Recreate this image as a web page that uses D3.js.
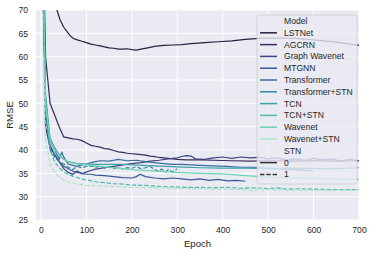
<!DOCTYPE html>
<html>
<head>
<meta charset="utf-8">
<script src="https://cdn.jsdelivr.net/npm/d3@7"></script>
<style>
  body { margin: 0; background: #fff; }
  svg { display: block; font-family: "Liberation Sans", Arial, sans-serif; }
  .tick text { fill: #262626; font-size: 8.6px; }
</style>
</head>
<body>
<svg id="chart" width="374" height="255"></svg>
<script>
const xTicks = [0, 100, 200, 300, 400, 500, 600, 700];
const yTicks = [25, 30, 35, 40, 45, 50, 55, 60, 65, 70];

const models = ["LSTNet", "AGCRN", "Graph Wavenet", "MTGNN", "Transformer",
  "Transformer+STN", "TCN", "TCN+STN", "Wavenet", "Wavenet+STN"];
const colors = ["#2d1e3e", "#3a2b5c", "#3f4380", "#3a5896", "#386da0",
  "#3587a5", "#3ca1aa", "#50baab", "#6dd3b0", "#aee3c6"];
const stn = [0, 0, 0, 0, 0, 1, 0, 1, 0, 1];

// [epoch, RMSE]
const lstnet = [[5,120],[15,95],[25,80],[35,70],[42,67.9],[50,66.3],[57,65.4],[64,64.5],[71,63.9],[80,63.6],[90,63.3],[100,63.0],[110,62.7],[120,62.5],[130,62.3],[140,62.1],[150,61.9],[160,61.8],[170,61.6],[180,61.6],[190,61.7],[200,61.5],[210,61.4],[220,61.6],[235,61.9],[250,62.2],[270,62.4],[290,62.5],[310,62.6],[330,62.8],[360,63.0],[390,63.2],[420,63.4],[450,63.7],[480,63.9],[520,64.0],[560,63.9],[600,63.6],[650,63.1],[700,62.4]];
const agcrn = [[5,85],[10,60],[20,50],[30,47.5],[40,45],[50,42.8],[60,42.6],[70,42.4],[80,42.3],[90,42],[100,41.5],[110,41],[120,40.8],[130,40.6],[140,40.3],[150,40.2],[160,39.9],[170,39.6],[180,39.5],[190,39.3],[200,39.2],[210,39.1],[220,39],[230,38.9],[240,38.7],[250,38.6],[260,38.4],[270,38.3],[280,38.2],[290,38.1],[300,38.0],[320,37.9],[350,37.9],[380,37.8],[420,37.7],[460,37.6],[500,37.7],[550,37.6],[600,37.7],[650,37.6],[700,37.7]];
const graphWavenet = [[5,75],[10,45],[20,40.5],[30,39],[40,37.5],[50,36],[60,35.2],[70,34.8],[80,35.5],[90,34.9],[100,35.3],[110,35.6],[120,35.9],[140,36.2],[160,36.5],[180,36.8],[200,37.1],[220,37.3],[240,37.6],[260,37.8],[280,38.1],[300,38.3],[310,38.6],[320,38.8],[330,38.7],[340,38.1],[360,38.0],[380,38.3],[400,38.5],[420,38.2],[440,38.5],[460,38.3],[480,38.4],[500,38.1],[520,38.3],[540,37.9],[560,38.1],[580,37.8],[600,38.2],[620,37.9],[640,38.1],[660,37.6],[680,38.0],[700,37.7]];
const mtgnn = [[5,80],[10,48],[20,41],[30,39],[40,37.5],[50,36.5],[60,36],[70,35.5],[80,35.2],[90,35],[100,34.8],[110,34.8],[120,34.6],[140,34.5],[160,34.3],[180,34.1],[200,34.0],[210,34.3],[218,34.8],[230,34.3],[250,34.0],[270,33.8],[290,34.0],[310,33.8],[330,33.6],[350,33.8],[370,33.5],[390,33.7],[410,33.4],[430,33.5],[450,33.3]];
const transformer = [[5,78],[10,50],[20,42],[30,40],[40,38],[46,39.5],[50,38.5],[60,37],[70,36.7],[80,36.5],[90,36.8],[100,37],[110,37.3],[120,37.5],[130,37.7],[150,37.6],[170,38],[190,37.7],[210,37.8],[230,37.5],[250,37.3],[270,37.1],[290,36.9],[310,36.9],[330,36.8],[350,36.7],[380,36.6],[410,36.5],[440,36.3],[470,36.3],[500,36.1],[530,35.9],[560,35.8],[600,35.5]];
const transformerStn = [[5,70],[10,48],[20,40],[30,38.5],[40,37.5],[50,37],[60,36.3],[70,35.8],[80,36.5],[90,36.2],[100,36.5],[110,36.6],[120,36.3],[130,36.5],[140,36.1],[150,36.4],[160,36.0],[170,36.3],[180,35.9],[190,36.2],[200,36.1],[210,36.4],[220,36.0],[230,36.2],[240,36.5],[250,35.8],[260,35.4],[265,35.9],[275,35.3],[280,35.8],[290,35.3],[300,36.0]];
const tcn = [[5,80],[10,52],[20,42.5],[30,40.5],[40,39],[50,38],[60,37.5],[70,37.3],[80,37.1],[100,37],[120,36.9],[150,36.9],[180,36.9],[200,36.8],[250,36.6],[300,36.4],[350,36.2],[400,36.1],[450,36.1],[500,36.0],[550,36.1],[600,36.0],[650,36.0],[700,36.2]];
const tcnStn = [[5,72],[10,50],[20,40],[30,37.5],[40,36.2],[50,35.3],[60,34.8],[70,34.4],[80,34.1],[90,33.8],[100,33.6],[120,33.2],[140,33.0],[160,32.8],[180,32.7],[200,32.5],[230,32.4],[260,32.2],[290,32.1],[320,32.0],[350,32.0],[380,31.9],[410,32.0],[440,31.8],[470,31.9],[500,31.7],[520,31.9],[540,31.6],[560,31.7],[600,31.6],[650,31.5],[700,31.5]];
const wavenet = [[5,80],[10,50],[20,42],[30,40],[40,38.8],[50,38],[60,37.5],[70,37.2],[80,37],[100,36.8],[120,36.6],[150,36.3],[180,36.0],[200,35.8],[250,35.5],[300,35.2],[350,35.0],[400,34.9],[450,34.5],[500,34.2],[550,34.0],[600,33.9],[650,33.8],[700,33.7]];
const wavenetStn = [[5,60],[10,42],[20,37],[30,35.3],[40,34.2],[50,33.6],[60,33.2],[70,32.9],[80,32.7],[100,32.4],[130,32.3],[160,32.2],[200,32.0],[250,31.9],[300,31.8],[350,31.7],[400,31.6],[450,31.5],[470,31.2],[480,31.9],[490,31.4],[500,31.5],[550,31.4],[600,31.4],[650,31.4],[700,31.4]];

const seriesValues = [lstnet, agcrn, graphWavenet, mtgnn, transformer,
  transformerStn, tcn, tcnStn, wavenet, wavenetStn];

const series = models.map((name, i) => ({
  name, color: colors[i], stn: stn[i], values: seriesValues[i],
}));

const svg = d3.select("svg#chart");
const margin = { left: 36, right: 15, top: 10, bottom: 35 };
const width = 374, height = 255;

const x = d3.scaleLinear().domain([-11, 700]).range([margin.left, width - margin.right]);
const y = d3.scaleLinear().domain([25, 70]).range([height - margin.bottom, margin.top]);

svg.append("rect")
  .attr("x", x.range()[0]).attr("y", y.range()[1])
  .attr("width", x.range()[1] - x.range()[0])
  .attr("height", y.range()[0] - y.range()[1])
  .attr("fill", "#eaeaf2");

svg.append("clipPath").attr("id", "plot")
  .append("rect")
  .attr("x", x.range()[0]).attr("y", y.range()[1])
  .attr("width", x.range()[1] - x.range()[0])
  .attr("height", y.range()[0] - y.range()[1]);

// grid
const grid = svg.append("g").attr("stroke", "#fff").attr("stroke-width", 1);
grid.selectAll("line.gx").data(xTicks).join("line")
  .attr("x1", (d) => x(d)).attr("x2", (d) => x(d))
  .attr("y1", y.range()[0]).attr("y2", y.range()[1]);
grid.selectAll("line.gy").data(yTicks).join("line")
  .attr("y1", (d) => y(d)).attr("y2", (d) => y(d))
  .attr("x1", x.range()[0]).attr("x2", x.range()[1]);

// axes (no domain / tick marks, seaborn darkgrid style)
svg.append("g")
  .attr("transform", `translate(0,${y.range()[0]})`)
  .call(d3.axisBottom(x).tickValues(xTicks).tickSize(0).tickPadding(7))
  .call((g) => g.select(".domain").remove());
svg.append("g")
  .attr("transform", `translate(${x.range()[0]},0)`)
  .call(d3.axisLeft(y).tickValues(yTicks).tickSize(0).tickPadding(8))
  .call((g) => g.select(".domain").remove());

svg.append("text")
  .attr("x", (x.range()[0] + x.range()[1]) / 2).attr("y", 247)
  .attr("text-anchor", "middle").attr("font-size", 9.6).attr("fill", "#262626")
  .text("Epoch");
svg.append("text")
  .attr("transform", `translate(13,${(y.range()[0] + y.range()[1]) / 2}) rotate(-90)`)
  .attr("text-anchor", "middle").attr("font-size", 9.6).attr("fill", "#262626")
  .text("RMSE");

const line = d3.line().x((d) => x(d[0])).y((d) => y(d[1]));

svg.append("g")
  .attr("clip-path", "url(#plot)")
  .attr("fill", "none")
  .selectAll("path")
  .data(series)
  .join("path")
  .attr("d", (d) => line(d.values))
  .attr("stroke", (d) => d.color)
  .attr("stroke-width", 1.2)
  .attr("stroke-dasharray", (d) => (d.stn ? "4.4,1.9" : null));

// legend
const legendItems = [
  { label: "Model", title: true },
  ...series.map((s) => ({ label: s.name, color: s.color })),
  { label: "STN", title: true },
  { label: "0", color: "#333", dash: null },
  { label: "1", color: "#333", dash: "4.4,1.9" },
];

const legend = svg.append("g").attr("transform", "translate(257,15)");
legend.append("rect")
  .attr("width", 100).attr("height", 169)
  .attr("rx", 2)
  .attr("fill", "#eaeaf2").attr("fill-opacity", 0.8)
  .attr("stroke", "#cccccc").attr("stroke-width", 0.8);

const rows = legend.selectAll("g.row")
  .data(legendItems)
  .join("g")
  .attr("transform", (d, i) => `translate(0,${6 + i * 11.8})`);

rows.filter((d) => !d.title)
  .append("line")
  .attr("x1", 3).attr("x2", 20)
  .attr("stroke", (d) => d.color)
  .attr("stroke-width", 1.5)
  .attr("stroke-dasharray", (d) => d.dash || null);

rows.append("text")
  .attr("x", 27).attr("dy", "0.35em")
  .attr("font-size", 8.6).attr("fill", "#262626")
  .text((d) => d.label);
</script>
</body>
</html>
